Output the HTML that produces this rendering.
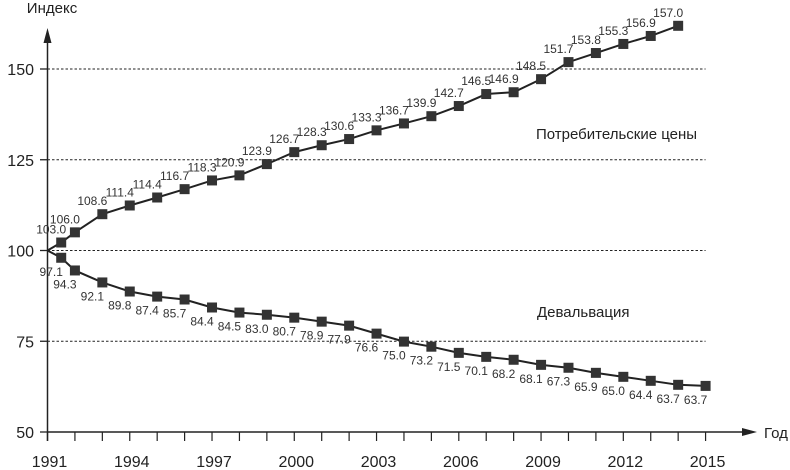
<!DOCTYPE html>
<html><head><meta charset="utf-8"><style>
html,body{margin:0;padding:0;background:#fff;}
svg{display:block;font-family:"Liberation Sans",Arial,sans-serif;}
</style></head><body>
<svg id="chart" width="790" height="470" viewBox="0 0 790 470" xmlns="http://www.w3.org/2000/svg"></svg>
<script>
const cpiYears = [1991.5,1992,1993,1994,1995,1996,1997,1998,1999,2000,2001,2002,2003,2004,2005,2006,2007,2008,2009,2010,2011,2012,2013,2014];
const cpiValues = [102.2,105,110,112.4,114.6,116.9,119.3,120.7,123.8,127.1,129,130.7,133.1,135,137,139.8,143.1,143.6,147.2,151.9,154.4,156.9,159.1,161.9];
const cpiLabels = ["103.0","106.0","108.6","111.4","114.4","116.7","118.3","120.9","123.9","126.7","128.3","130.6","133.3","136.7","139.9","142.7","146.5","146.9","148.5","151.7","153.8","155.3","156.9","157.0"];
const devYears = [1991.5,1992,1993,1994,1995,1996,1997,1998,1999,2000,2001,2002,2003,2004,2005,2006,2007,2008,2009,2010,2011,2012,2013,2014,2015];
const devValues = [98,94.5,91.2,88.7,87.3,86.5,84.3,82.9,82.3,81.5,80.4,79.3,77.1,74.9,73.5,71.8,70.7,69.9,68.5,67.7,66.3,65.2,64.1,63,62.7];
const devLabels = ["97.1","94.3","92.1","89.8","87.4","85.7","84.4","84.5","83.0","80.7","78.9","77.9","76.6","75.0","73.2","71.5","70.1","68.2","68.1","67.3","65.9","65.0","64.4","63.7","63.7"];
const yTicks = [50,75,100,125,150];
const xTickLabels = [1991,1994,1997,2000,2003,2006,2009,2012,2015];

const NS="http://www.w3.org/2000/svg";
const svg=document.getElementById('chart');
const X0=47.5, PX=27.42;
function x(yr){return X0+(yr-1991)*PX;}
function y(v){return 432-(v-50)*3.63;}
function mk(tag,attrs,parent){const e=document.createElementNS(NS,tag);for(const k in attrs)e.setAttribute(k,attrs[k]);(parent||svg).appendChild(e);return e;}

// grid + y ticks
yTicks.forEach(v=>{
  if(v>50){
    const g=mk('line',{x1:x(1991),x2:x(2015),y1:y(v),y2:y(v),stroke:'#222','stroke-width':1,'stroke-dasharray':'2.5,2'});
    
    
  }
  const t=mk('line',{x1:40,x2:47.5,y1:y(v),y2:y(v),stroke:'#222','stroke-width':1.3});
  
  
  const l=mk('text',{x:34,y:y(v)+6,'text-anchor':'end','font-size':16,fill:'#222'});
  l.textContent=v;
  
  
});
// x ticks
for(let yr=1991;yr<=2015;yr++){
  const t=mk('line',{x1:x(yr),x2:x(yr),y1:432,y2:441,stroke:'#222','stroke-width':1.2});
  
  
}
xTickLabels.forEach(yr=>{
  const l=mk('text',{x:x(yr)+2,y:467,'text-anchor':'middle','font-size':16,fill:'#222'});
  l.textContent=yr;
  
  
});
// axes
const ya=mk('line',{x1:X0,x2:X0,y1:441,y2:38,stroke:'#222','stroke-width':1.5});


const yar=mk('polygon',{points:`${X0},28 ${X0-4},43 ${X0+4},43`,fill:'#222'});


const xa=mk('line',{x1:X0,x2:748,y1:432,y2:432,stroke:'#222','stroke-width':1.5});


const xar=mk('polygon',{points:`757,432 742,428 742,436`,fill:'#222'});


const yt=mk('text',{x:52,y:13,'text-anchor':'middle','font-size':15,fill:'#222'});
yt.textContent='Индекс';


const xt=mk('text',{x:764,y:438,'font-size':15,fill:'#222'});
xt.textContent='Год';



function series(name,yrs,vals,labels,below){
  const pts=[[x(1991),y(100)]].concat(yrs.map((yr,i)=>[x(yr),y(vals[i])]));
  const pl=mk('polyline',{points:pts.map(p=>p.join(',')).join(' '),fill:'none',stroke:'#222','stroke-width':2});
  
  
  yrs.forEach((yr,i)=>{
    const cx=x(yr),cy=y(vals[i]);
    const r=mk('rect',{x:cx-5,y:cy-5,width:10,height:10,fill:'#333'});
    
    
    const t=mk('text',{x:cx-10,y:below?cy+18:cy-9,'text-anchor':'middle','font-size':12,fill:'#333'});
    t.textContent=labels[i];
    
    
  });
}
series('cpi',cpiYears,cpiValues,cpiLabels,false);
series('devaluation',devYears,devValues,devLabels,true);

const s1=mk('text',{x:536,y:139,'font-size':15,fill:'#222'});
s1.textContent='Потребительские цены';


const s2=mk('text',{x:537,y:317,'font-size':15,fill:'#222'});
s2.textContent='Девальвация';


</script>
</body></html>
